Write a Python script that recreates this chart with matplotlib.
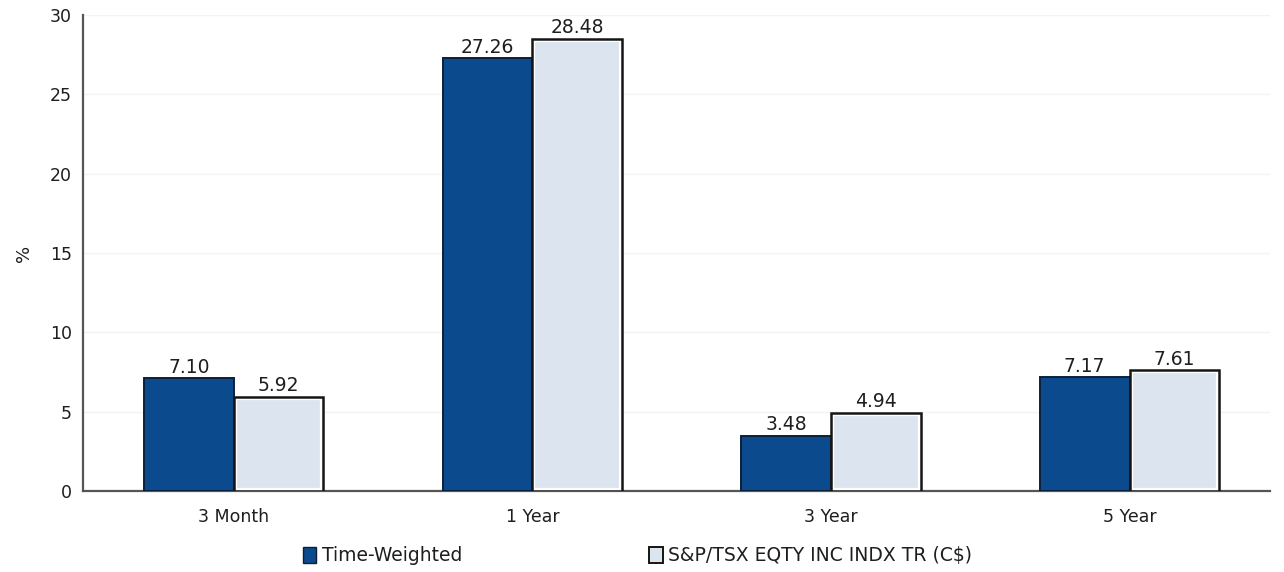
import matplotlib
matplotlib.use("Agg")
import matplotlib.pyplot as plt
import numpy as np
from matplotlib.patches import Patch

categories = ["3 Month", "1 Year", "3 Year", "5 Year"]
time_weighted = [7.10, 27.26, 3.48, 7.17]
benchmark = [5.92, 28.48, 4.94, 7.61]
series_names = ["Time-Weighted", "S&P/TSX EQTY INC INDX TR (C$)"]
yticks = [0, 5, 10, 15, 20, 25, 30]

plt.rcParams['font.family'] = ['DejaVu Sans']

navy = "#0b4a8c"
light = "#dbe4ef"
txt = "#1e1e1e"

fig = plt.figure(figsize=(12.84, 5.72), dpi=100)
ax = fig.add_axes([0.0646, 0.1416, 0.9244, 0.8324])

x = np.arange(len(categories))
w = 0.30
b1 = ax.bar(x - w/2, time_weighted, w, color=navy, edgecolor="#0a1f3a", linewidth=1.4, zorder=3)
b2 = ax.bar(x + w/2, benchmark, w, color=light, edgecolor="white", linewidth=4.5, zorder=3)
for r in b2:
    r.set_clip_path(r)
ax.bar(x + w/2, benchmark, w, facecolor="none", edgecolor="#151515", linewidth=1.8, zorder=4)

for rect, v in list(zip(b1, time_weighted)) + list(zip(b2, benchmark)):
    ax.text(rect.get_x() + rect.get_width()/2, v + 0.1, f"{v:.2f}",
            ha="center", va="bottom", fontsize=13.5, color=txt, zorder=5)

ax.set_xlim(-0.505, 3.47)
ax.set_ylim(0, 30)
ax.set_yticks(yticks)
ax.set_xticks(x)
ax.set_xticklabels(categories, fontsize=12.5, color=txt)
ax.tick_params(axis="y", labelsize=12.5, length=0, pad=8, labelcolor=txt)
ax.tick_params(axis="x", length=0, pad=12)
for t in yticks[1:]:
    ax.axhline(t, color="#f3f3f3", linewidth=1, zorder=1)
ax.set_ylabel("%", fontsize=13, labelpad=12, color=txt)

for s in ["top", "right"]:
    ax.spines[s].set_visible(False)
ax.spines["left"].set_color("#555555")
ax.spines["bottom"].set_color("#555555")
ax.spines["left"].set_linewidth(1.6)
ax.spines["bottom"].set_linewidth(1.6)

handles = [Patch(facecolor=navy, edgecolor="#0a1f3a"),
           Patch(facecolor=light, edgecolor="#151515", linewidth=1.4)]
fig.legend(handles, series_names, loc="center", bbox_to_anchor=(0.4965, 0.028),
           ncol=2, frameon=False, fontsize=13.5, handlelength=0.7, handleheight=0.9,
           handletextpad=0.3, columnspacing=10.0, labelcolor=txt)

fig.savefig("out.png", dpi=100)
